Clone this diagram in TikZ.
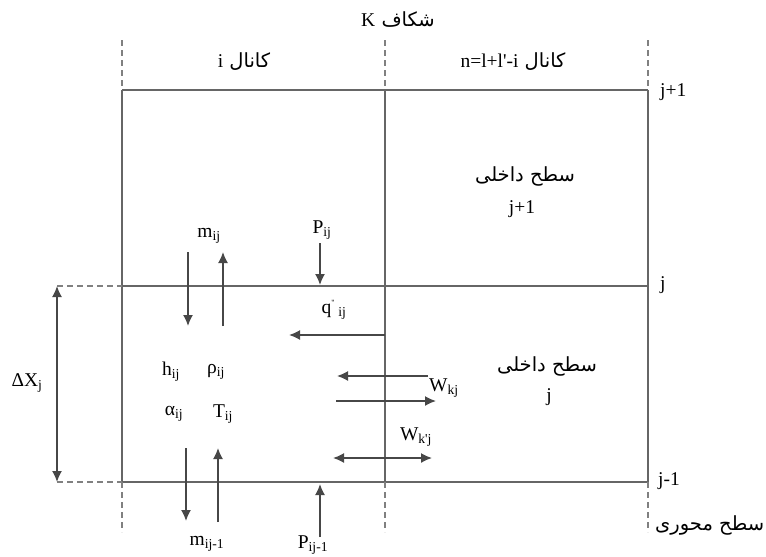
\documentclass[tikz,border=0pt]{standalone}
\usepackage{fontspec}
\setmainfont{Liberation Serif}
\newfontfamily\arabicfont[Script=Arabic]{DejaVu Sans}
\TeXXeTstate=1
\usetikzlibrary{arrows.meta}
\begin{document}
\begin{tikzpicture}[x=1pt,y=-1pt,
  grid/.style={draw=black!60, line width=1.8pt},
  dashln/.style={draw=black!50, line width=1.8pt, dash pattern=on 6pt off 4pt},
  arr/.style={draw=black!72, line width=1.6pt, -{Latex[length=11pt,width=10pt]}},
  darr/.style={draw=black!72, line width=1.6pt, {Latex[length=11pt,width=10pt]}-{Latex[length=11pt,width=10pt]}},
  lbl/.style={font=\fontsize{19.5}{22}\selectfont, inner sep=0pt},
  ar/.style={font=\arabicfont\fontsize{19.5}{22}\selectfont, inner sep=0pt}]
\useasboundingbox (0,0) rectangle (766,557);
% grid corners
\coordinate (TL) at (122,90);  \coordinate (TM) at (385,90);  \coordinate (TR) at (648,90);
\coordinate (ML) at (122,286); \coordinate (MM) at (385,286); \coordinate (MR) at (648,286);
\coordinate (BL) at (122,482); \coordinate (BM) at (385,482); \coordinate (BR) at (648,482);
\coordinate (TLd) at (122,40); \coordinate (TMd) at (385,40); \coordinate (TRd) at (648,40);
\coordinate (BLd) at (122,532); \coordinate (BMd) at (385,532); \coordinate (BRd) at (648,532);
\coordinate (MX) at (57,286); \coordinate (BX) at (57,482);
% solid grid
\draw[grid] (TL) -- (TR);
\draw[grid] (ML) -- (MR);
\draw[grid] (BL) -- (BR);
\draw[grid] (TL) -- (BL);
\draw[grid] (TM) -- (BM);
\draw[grid] (TR) -- (BR);
% dashed extensions
\draw[dashln] (TLd) -- (TL);
\draw[dashln] (TMd) -- (TM);
\draw[dashln] (TRd) -- (TR);
\draw[dashln] (BL) -- (BLd);
\draw[dashln] (BM) -- (BMd);
\draw[dashln] (BR) -- (BRd);
\draw[dashln] (MX) -- (ML);
\draw[dashln] (BX) -- (BL);
% Delta X
\draw[darr] (BX) -- (MX);
\node[lbl] (dx) at (27,383) {ΔX\textsubscript{j}};
% top labels
\node[ar] (shk) at (398,20) {\beginR شکاف {\rmfamily K}\endR};
\node[ar] (ki) at (244,62) {\beginR کانال {\rmfamily i}\endR};
\node[ar] (kn) at (513,62) {\beginR کانال \beginL{\rmfamily n=l+l\textquotesingle-i}\endL\endR};
% right labels
\node[lbl, anchor=west] (jp) at (660,92) {j+1};
\node[lbl, anchor=west] (jj) at (660,285) {j};
\node[lbl, anchor=west] (jm) at (658,481) {j-1};
\node[ar, anchor=west] (axial) at (655,525) {\beginR سطح محوری\endR};
% inner surfaces
\node[ar] (in1) at (525,176) {\beginR سطح داخلی\endR};
\node[lbl] (in1j) at (522,209) {j+1};
\node[ar] (in2) at (547,366) {\beginR سطح داخلی\endR};
\node[lbl] (in2j) at (549,397) {j};
% m_ij arrows
\coordinate (m1a) at (188,252); \coordinate (m1b) at (188,326);
\coordinate (m2a) at (223,326); \coordinate (m2b) at (223,252);
\draw[arr] (m1a) -- (m1b);
\draw[arr] (m2a) -- (m2b);
\node[lbl] (mij) at (209,236) {m\textsubscript{ij}};
% P_ij
\coordinate (p1a) at (320,243);
\coordinate (p1b) at (320,285);
\draw[arr] (p1a) -- (p1b);
\node[lbl] (pij) at (322,230) {P\textsubscript{ij}};
% q''
\coordinate (qa) at (385,335); \coordinate (qb) at (289,335);
\draw[arr] (qa) -- (qb);
\node[lbl] (qij) at (334,310) {q\textsuperscript{\footnotesize\textquotedbl}\,\textsubscript{ij}};
% properties
\node[lbl] (hij) at (171,372) {h\textsubscript{ij}};
\node[lbl] (rij) at (216,372) {ρ\textsubscript{ij}};
\node[lbl] (aij) at (174,414) {α\textsubscript{ij}};
\node[lbl] (tij) at (223,414) {T\textsubscript{ij}};
% W_kj
\coordinate (w1a) at (428,376); \coordinate (w1b) at (337,376);
\coordinate (w2a) at (336,401); \coordinate (w2b) at (436,401);
\draw[arr] (w1a) -- (w1b);
\draw[arr] (w2a) -- (w2b);
\node[lbl, anchor=west] (wkj) at (429,388) {W\textsubscript{kj}};
% W_k'j
\coordinate (w3a) at (333,458); \coordinate (w3b) at (432,458);
\draw[darr] (w3a) -- (w3b);
\node[lbl] (wkpj) at (416,437) {W\textsubscript{k\textquotesingle j}};
% m_ij-1
\coordinate (m3a) at (186,448); \coordinate (m3b) at (186,521);
\coordinate (m4a) at (218,522); \coordinate (m4b) at (218,448);
\draw[arr] (m3a) -- (m3b);
\draw[arr] (m4a) -- (m4b);
\node[lbl] (mij1) at (207,544) {m\textsubscript{ij-1}};
% P_ij-1
\coordinate (p2a) at (320,537); \coordinate (p2b) at (320,484);
\draw[arr] (p2a) -- (p2b);
\node[lbl] (pij1) at (313,545) {P\textsubscript{ij-1}};
\end{tikzpicture}
\end{document}
